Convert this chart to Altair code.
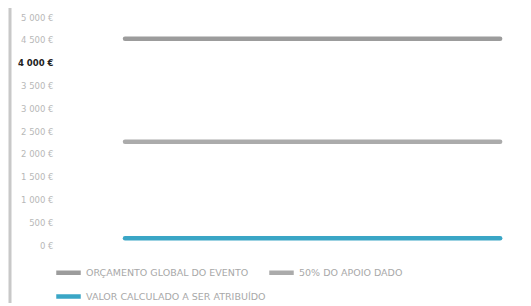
import altair as alt
import pandas as pd

# Data
series = ["ORÇAMENTO GLOBAL DO EVENTO", "VALOR CALCULADO A SER ATRIBUÍDO", "50% DO APOIO DADO"]
values = [4525, 150, 2262]
colors = ["#9c9c9c", "#3aa6c6", "#ababab"]
x_points = [1, 2]
y_ticks = [0, 500, 1000, 1500, 2000, 2500, 3000, 3500, 4000, 4500, 5000]

rows = []
for s, v in zip(series, values):
    for xp in x_points:
        rows.append({"serie": s, "x": xp, "valor": v})
df = pd.DataFrame(rows)

W, H = 458, 228

lines = alt.Chart(df).mark_line(strokeWidth=4.5, strokeCap="round").encode(
    x=alt.X("x:Q", scale=alt.Scale(domain=[0.832, 2.053], nice=False, zero=False), axis=None),
    y=alt.Y(
        "valor:Q",
        scale=alt.Scale(domain=[0, 5000], nice=False),
        axis=alt.Axis(
            values=y_ticks,
            title=None,
            grid=False,
            ticks=False,
            domain=False,
            labelPadding=9,
            labelFont="DejaVu Sans",
            labelFontSize=8.5,
            labelExpr="replace(format(datum.value, ',.0f'), ',', ' ') + ' €'",
            labelColor={"condition": {"test": "datum.value === 4000", "value": "#222222"}, "value": "#b8b8b8"},
            labelFontWeight={"condition": {"test": "datum.value === 4000", "value": "bold"}, "value": "normal"},
        ),
    ),
    color=alt.Color(
        "serie:N",
        scale=alt.Scale(domain=series, range=colors),
        legend=alt.Legend(
            title=None,
            orient="none",
            legendX=-8,
            legendY=241,
            columns=2,
            columnPadding=-6,
            rowPadding=0,
            symbolType="stroke",
            symbolSize=600,
            symbolStrokeWidth=4.5,
            labelFont="DejaVu Sans",
            labelFontSize=9.5,
            labelColor="#a8a8a8",
            labelOffset=3,
            labelLimit=300,
        ),
    ),
)

border = alt.Chart(pd.DataFrame({"b": [0]})).mark_rule(color="#c8c8c8", strokeWidth=3).encode(
    x=alt.value(-52), y=alt.value(-17), y2=alt.value(297)
)

chart = alt.layer(border, lines).properties(
    width=W,
    height=H,
    autosize=alt.AutoSizeParams(type="none"),
    padding={"left": 54, "top": 9, "right": 3, "bottom": 58},
).configure_view(stroke=None)

chart.save("out.html", embed_options={"renderer": "svg", "actions": False})
